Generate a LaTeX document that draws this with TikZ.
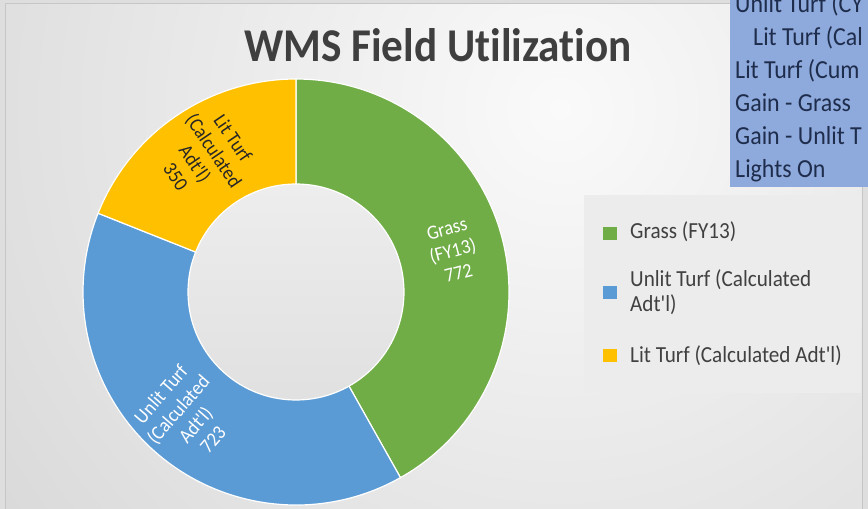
\documentclass[tikz,border=0pt]{standalone}
\usepackage{fontspec}
\newfontfamily\chartfont{Carlito}[FakeStretch=0.92, Ligatures=NoCommon]
\usetikzlibrary{calc}

\definecolor{grassgreen}{HTML}{70AD47}
\definecolor{unlitblue}{HTML}{5B9BD5}
\definecolor{lityellow}{HTML}{FFC000}
\definecolor{titlegray}{HTML}{3F3F3F}
\definecolor{keygray}{HTML}{404040}
\definecolor{noteblue}{HTML}{8EA9DB}
\definecolor{notenavy}{HTML}{1F2D4D}
\definecolor{bgdark}{HTML}{C4C4C4}
\definecolor{bglight}{HTML}{FAFAFA}
\definecolor{keybg}{HTML}{ECECEC}

\tikzset{
  slicelabel/.style={font=\chartfont\fontsize{20}{23}\selectfont, align=center, inner sep=0pt},
  keytext/.style={font=\chartfont\fontsize{23}{25}\selectfont, text=keygray, anchor=base west, inner sep=0pt},
  keysquare/.style={minimum width=14pt, minimum height=13pt, inner sep=0pt},
  notetext/.style={font=\chartfont\fontsize{26}{28}\selectfont, text=notenavy, anchor=base west, inner sep=0pt},
  slicesep/.style={draw=white, line width=1.2pt}
}

\begin{document}
\begin{tikzpicture}[x=1pt,y=1pt]
\useasboundingbox (0,0) rectangle (868,509);
\begin{scope}
\clip (0,0) rectangle (868,509);
% backdrop and chart area
\fill[white!87!black] (0,0) rectangle (868,509);
\begin{scope}
  \clip (5,0) rectangle (862,505);
  \shade[inner color=bglight, outer color=bgdark] (560,400) circle (1150);
\end{scope}
\draw[gray!45, line width=1pt] (5,0) -- (5,505) -- (862,505) -- (862,0);

% title
\node[font=\chartfont\fontsize{47}{50}\selectfont\bfseries, text=titlegray, anchor=base] (title) at (438,447) {WMS Field Utilization};

% donut
\coordinate (ctr) at (296,217);
\path[fill=grassgreen, slicesep] (ctr) -- ++(90:213) arc[start angle=90, end angle=-60.63, radius=213] -- cycle;
\path[fill=unlitblue, slicesep] (ctr) -- ++(-60.63:213) arc[start angle=-60.63, end angle=-201.70, radius=213] -- cycle;
\path[fill=lityellow, slicesep] (ctr) -- ++(-201.70:213) arc[start angle=-201.70, end angle=-270, radius=213] -- cycle;
\shade[top color=black!7, bottom color=black!12] (ctr) circle (108);
\draw[white, line width=1.2pt] (ctr) circle (108);

% slice labels
\node[slicelabel, text=white, rotate=14.69] (grasslbl) at ([shift={(14.69:162)}]ctr) {Grass\\(FY13)\\772};
\node[slicelabel, text=white, rotate=48.83] (unlitlbl) at ([shift={(-131.17:166)}]ctr) {Unlit Turf\\(Calculated\\Adt'l)\\723};
\node[slicelabel, text=black!85, rotate=-55.85] (litlbl) at ([shift={(124.15:163)}]ctr) {Lit Turf\\(Calculated\\Adt'l)\\350};

% legend
\fill[keybg] (584,116) rectangle (861,314);
\node[keysquare, fill=grassgreen] (grasskey) at (610,275.5) {};
\node[keytext] (grasstext) at (630,270) {Grass (FY13)};
\node[keysquare, fill=unlitblue] (unlitkey) at (610,216.5) {};
\node[keytext] (unlittext) at (630,222) {Unlit Turf (Calculated};
\node[keytext] (unlittexttwo) at (630,197) {Adt'l)};
\node[keysquare, fill=lityellow] (litkey) at (610,153.5) {};
\node[keytext] (littext) at (630,146) {Lit Turf (Calculated Adt'l)};

% note box, cut off at the edge
\fill[noteblue] (730,322) rectangle (868,509);
\node[notetext] (noteone) at (735,496) {Unlit Turf (CY};
\node[notetext] (notetwo) at (753,463) {Lit Turf (Cal};
\node[notetext] (notethree) at (735,430) {Lit Turf (Cum};
\node[notetext] (notefour) at (735,397) {Gain - Grass};
\node[notetext] (notefive) at (735,364) {Gain - Unlit T};
\node[notetext] (notesix) at (735,331) {Lights On};
\end{scope}
\end{tikzpicture}
\end{document}
